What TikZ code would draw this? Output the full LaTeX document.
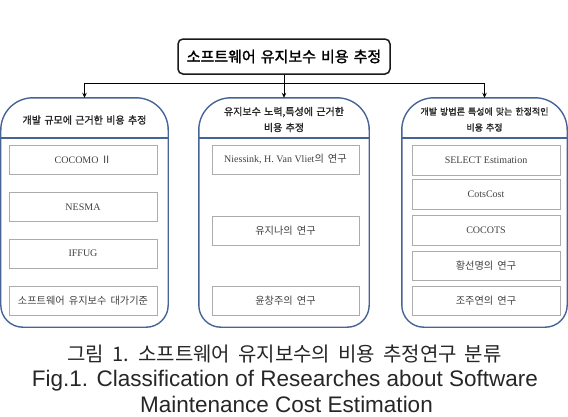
\documentclass[tikz,border=0pt]{standalone}
\usepackage{fontspec}
\setmainfont{Liberation Serif}
\newfontfamily\kr{Noto Sans CJK KR}[WordSpace=1.5]
\newfontfamily\krb{Noto Sans CJK KR}[WordSpace=1.5,FakeBold=1.5]
\newfontfamily\krcap{Noto Sans CJK KR}[WordSpace=1.8]
\newfontfamily\capsans{Liberation Sans}
\usetikzlibrary{arrows.meta}
\definecolor{colblue}{RGB}{70,100,150}
\newcommand{\krtxt}[1]{{\kr\fontsize{10.2}{12}\selectfont #1}}
\begin{document}
\begin{tikzpicture}[x=1pt,y=-1pt,
  topbox/.style={draw=black!90, line width=1.5pt, rounded corners=5pt,
    minimum width=212pt, minimum height=35pt, inner sep=0pt,
    font=\krb\fontsize{15}{17}\selectfont},
  colnode/.style={draw=none, minimum height=229pt, inner sep=0pt},
  colline/.style={draw=colblue, line width=1.4pt},
  hdr/.style={align=center, text=black!85, inner sep=0pt,
    font=\krb\fontsize{10}{16}\selectfont},
  itembox/.style={draw=gray!65, line width=0.9pt, minimum width=148pt,
    minimum height=29pt, inner sep=0pt, text=black!75,
    font=\fontsize{10}{12}\selectfont},
  busline/.style={draw=black, line width=1pt},
  arr/.style={busline, -{Stealth[length=5pt,width=4.5pt]}},
  captext/.style={anchor=base, inner sep=0pt, text=black!85}
]
\useasboundingbox (0,0) rectangle (568,416);

% top box
\node[topbox] (top) at (284,56.5) {소프트웨어 유지보수 비용 추정};

% columns
\node[colnode, minimum width=167pt] (c1) at (84.5,212.5) {};
\node[colnode, minimum width=170pt] (c2) at (284,212.5) {};
\node[colnode, minimum width=165pt] (c3) at (484.5,212.5) {};

\foreach \c in {c1,c2,c3}{
  \draw[colline] (\c.west) [rounded corners=32pt] -- (\c.north west) -- (\c.north east) -- (\c.east)
     [rounded corners=22pt] -- (\c.south east) -- (\c.south west) -- cycle;
  \draw[colline] ([yshift=-40pt]\c.north west) -- ([yshift=-40pt]\c.north east);
}

% connectors
\coordinate (bus) at (284,83);
\draw[busline] (top.south) -- (bus);
\draw[busline] (c1.north |- bus) -- (c3.north |- bus);
\draw[arr] (c1.north |- bus) -- (c1.north);
\draw[arr] (bus) -- (c2.north);
\draw[arr] (c3.north |- bus) -- (c3.north);

% headers
\node[hdr] (h1) at (84.5,120) {개발 규모에 근거한 비용 추정};
\node[hdr] (h2) at (284,119.5) {유지보수 노력,특성에 근거한\\비용 추정};
\node[hdr, font=\krb\fontsize{9}{16}\selectfont] (h3) at (484.5,119.5) {개발 방법론 특성에 맞는 한정적인\\비용 추정};

% left column items
\node[itembox] (a1) at (83,160) {COCOMO \krtxt{Ⅱ}};
\node[itembox] (a2) at (83,207) {NESMA};
\node[itembox] (a3) at (83,253.5) {IFFUG};
\node[itembox] (a4) at (83,300.5) {\krtxt{소프트웨어 유지보수 대가기준}};

% middle column items
\node[itembox, minimum width=147pt] (b1) at (285.5,159.5) {Niessink, H. Van Vliet\krtxt{의 연구}};
\node[itembox, minimum width=147pt] (b2) at (285.5,230.5) {\krtxt{유지나의 연구}};
\node[itembox, minimum width=147pt] (b3) at (285.5,300.5) {\krtxt{윤창주의 연구}};

% right column items
\node[itembox, minimum height=30pt] (d1) at (486,160) {SELECT Estimation};
\node[itembox, minimum height=30pt] (d2) at (486,194.5) {CotsCost};
\node[itembox, minimum height=30pt] (d3) at (486,230) {COCOTS};
\node[itembox] (d4) at (486,265.5) {\krtxt{황선명의 연구}};
\node[itembox] (d5) at (486,300.5) {\krtxt{조주연의 연구}};

% caption
\node[captext, font=\krcap\fontsize{20}{22}\selectfont] (cap1) at (284.5,361) {그림 1. 소프트웨어 유지보수의 비용 추정연구 분류};
\node[captext, font=\capsans\fontsize{22.5}{26}\selectfont] (cap2) at (285,386) {Fig.1. Classification of Researches about Software};
\node[captext, font=\capsans\fontsize{22.5}{26}\selectfont] (cap3) at (286.5,412) {Maintenance Cost Estimation};
\end{tikzpicture}
\end{document}
